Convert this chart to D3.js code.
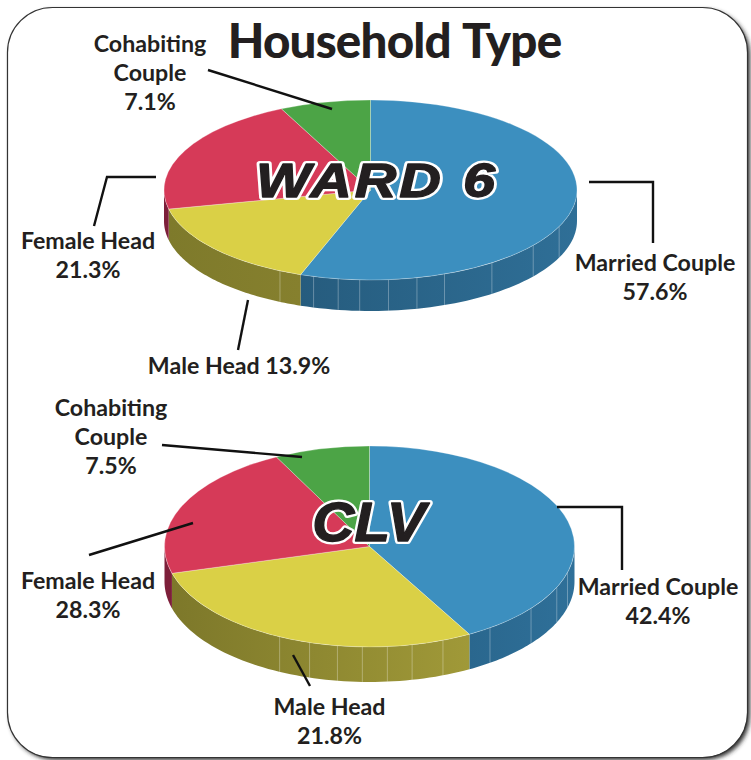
<!DOCTYPE html>
<meta charset="utf-8">
<script src="https://d3js.org/d3.v7.min.js"></script>
<style>
  html, body { margin: 0; padding: 0; background: #fff; }
  svg { display: block; }
</style>
<body>
<div id="canvas"></div>
<script>
// slice order is clockwise from 12 o'clock
var categories = ["Married Couple", "Male Head", "Female Head", "Cohabiting Couple"];

// shares as the slices are actually drawn (the printed labels below don't always agree with them)
var wardShares = [55.5, 16.1, 21.3, 7.1];
var clvShares = [41.9, 28.8, 21.8, 7.5];

// printed percentages
var wardLabels = ["57.6%", "13.9%", "21.3%", "7.1%"];
var clvLabels = ["42.4%", "21.8%", "28.3%", "7.5%"];

// angle of the light seams on the pie wall, degrees
var wardSeams = [114, 128, 144, 159, 167, 175, 183, 189, 196, 206];
var clvSeams = [105, 114, 128, 144, 159, 168, 175, 182, 189, 197, 206];

var width = 751;
var height = 760;

var topColors = ["#3c8fbf", "#dad046", "#d63a58", "#4ca446"];

var svg = d3.select("#canvas").append("svg")
    .attr("width", width)
    .attr("height", height);

var defs = svg.append("defs");

var shadow = defs.append("filter").attr("id", "soft")
    .attr("x", "-5%").attr("y", "-5%").attr("width", "110%").attr("height", "110%");
shadow.append("feGaussianBlur").attr("stdDeviation", 2.2);

// frame ---------------------------------------------------------------
svg.append("rect")
    .attr("x", 10).attr("y", 10)
    .attr("width", 740).attr("height", 750)
    .attr("rx", 45)
    .attr("fill", "#333")
    .attr("filter", "url(#soft)");
svg.append("rect")
    .attr("x", 7.5).attr("y", 7.5)
    .attr("width", 740).attr("height", 750)
    .attr("rx", 45)
    .attr("fill", "#fff")
    .attr("stroke", "#333")
    .attr("stroke-width", 1.2);

svg.append("text")
    .attr("x", 394.5).attr("y", 58)
    .attr("text-anchor", "middle")
    .attr("font-family", "Lato")
    .attr("font-weight", 900)
    .attr("font-size", 47.5)
    .attr("letter-spacing", -0.8)
    .attr("word-spacing", 2)
    .attr("fill", "#231f20")
    .text("Household Type");

function drawPie(conf) {
    var g = svg.append("g").attr("transform", "translate(" + conf.cx + "," + conf.cy + ")");

    var pie = d3.pie().sort(null).value(function(d) { return d; });
    var slices = pie(conf.shares);

    var px = function(a) { return conf.rx * Math.sin(a); };
    var py = function(a) { return -conf.ry * Math.cos(a); };
    var rad = function(deg) { return deg * Math.PI / 180; };

    // wall: only the part of each slice on the front half shows
    slices.forEach(function(s, i) {
        var a0 = Math.max(s.startAngle, Math.PI / 2);
        var a1 = Math.min(s.endAngle, Math.PI * 1.5);
        if (a1 <= a0) return;

        var id = conf.id + "-wall-" + i;
        var grad = defs.append("linearGradient").attr("id", id);
        // walls are given as [left, right]
        grad.append("stop").attr("offset", "0%").attr("stop-color", conf.walls[i][0]);
        grad.append("stop").attr("offset", "100%").attr("stop-color", conf.walls[i][1]);

        var steps = d3.range(0, 61).map(function(k) { return a0 + (a1 - a0) * k / 60; });
        var top = steps.map(function(a) { return [px(a), py(a)]; });
        var bottom = steps.slice().reverse().map(function(a) { return [px(a), py(a) + conf.depth]; });

        g.append("path")
            .attr("d", d3.line()(top.concat(bottom)) + "Z")
            .attr("fill", "url(#" + id + ")");
    });

    g.selectAll(".seam")
        .data(conf.seams)
        .enter()
        .append("line")
        .attr("x1", function(d) { return px(rad(d)); })
        .attr("x2", function(d) { return px(rad(d)); })
        .attr("y1", function(d) { return py(rad(d)); })
        .attr("y2", function(d) { return py(rad(d)) + conf.depth; })
        .attr("stroke", "#fff")
        .attr("stroke-opacity", 0.3)
        .attr("stroke-width", 1);

    // top face: a round d3.arc squashed into an ellipse
    var arc = d3.arc().innerRadius(0).outerRadius(conf.rx);
    g.append("g")
        .attr("transform", "scale(1," + (conf.ry / conf.rx) + ")")
        .selectAll("path")
        .data(slices)
        .enter()
        .append("path")
        .attr("d", arc)
        .attr("fill", function(d, i) { return topColors[i]; })
        .attr("stroke", "#fff")
        .attr("stroke-opacity", 0.35)
        .attr("stroke-width", 0.8)
        .attr("vector-effect", "non-scaling-stroke");

    // leaders --------------------------------------------------------
    svg.selectAll(".leader-" + conf.id)
        .data(conf.leaders)
        .enter()
        .append("path")
        .attr("d", d3.line())
        .attr("fill", "none")
        .attr("stroke", "#111")
        .attr("stroke-width", 2.4);

    // pie name: black with a white outline, stretched wide like the original lettering
    var name = svg.append("g")
        .attr("transform", "translate(" + conf.nameX + "," + conf.nameY + ") scale(" + conf.nameStretch + ",1)")
        .attr("text-anchor", "middle")
        .attr("font-family", "Liberation Sans")
        .attr("font-weight", 700)
        .attr("font-style", "italic")
        .attr("font-size", conf.nameSize)
        .attr("letter-spacing", conf.nameSpacing)
        .attr("stroke-linejoin", "round");
    name.append("text")
        .attr("fill", "#fff")
        .attr("stroke", "#fff")
        .attr("stroke-width", 6)
        .text(conf.name);
    name.append("text")
        .attr("fill", "#231f20")
        .attr("stroke", "#231f20")
        .attr("stroke-width", 1.3)
        .text(conf.name);

    // labels ---------------------------------------------------------
    conf.labelLines.forEach(function(block) {
        svg.append("g").selectAll("text")
            .data(block.lines)
            .enter()
            .append("text")
            .attr("x", block.x)
            .attr("y", function(d, i) { return block.y + i * 29; })
            .attr("text-anchor", "middle")
            .attr("font-family", "Lato")
            .attr("font-weight", 700)
            .attr("font-size", 23.2)
            .attr("fill", "#231f20")
            .text(function(d) { return d; });
    });
}

drawPie({
    id: "ward", name: "WARD 6",
    shares: wardShares, seams: wardSeams,
    cx: 370.5, cy: 190, rx: 206.5, ry: 90, depth: 31,
    walls: [["#265c7e", "#2f6f97"], ["#7e7a2b", "#86802e"], ["#7d1f3a", "#7d1f3a"], ["#4ca446", "#4ca446"]],
    nameX: 377, nameY: 197, nameSize: 48, nameSpacing: 2.5, nameStretch: 1.2,
    leaders: [
        [[208, 70], [332, 109]],
        [[156, 177], [107, 177], [94, 226]],
        [[589, 182], [653, 182], [653, 243]],
        [[248, 300], [238, 350]]
    ],
    labelLines: [
        { x: 150, y: 52, lines: ["Cohabiting", "Couple", wardLabels[3]] },
        { x: 88, y: 249, lines: ["Female Head", wardLabels[2]] },
        { x: 655, y: 271, lines: [categories[0], wardLabels[0]] },
        { x: 239, y: 374, lines: [categories[1] + " " + wardLabels[1]] }
    ]
});

drawPie({
    id: "clv", name: "CLV",
    shares: clvShares, seams: clvSeams,
    cx: 369.5, cy: 546.5, rx: 205, ry: 100.5, depth: 35,
    walls: [["#2a678e", "#2f7099"], ["#7d782a", "#a09938"], ["#7d1f3a", "#7d1f3a"], ["#4ca446", "#4ca446"]],
    nameX: 369, nameY: 541, nameSize: 56, nameSpacing: 0, nameStretch: 1.04,
    leaders: [
        [[162, 445], [302, 457]],
        [[89, 555], [193, 523]],
        [[557, 507], [622, 507], [622, 570]],
        [[293, 655], [310, 686]]
    ],
    labelLines: [
        { x: 111, y: 416, lines: ["Cohabiting", "Couple", clvLabels[3]] },
        { x: 88, y: 589, lines: ["Female Head", clvLabels[2]] },
        { x: 658, y: 595, lines: [categories[0], clvLabels[0]] },
        { x: 329.5, y: 715, lines: [categories[1], clvLabels[1]] }
    ]
});
</script>
</body>
